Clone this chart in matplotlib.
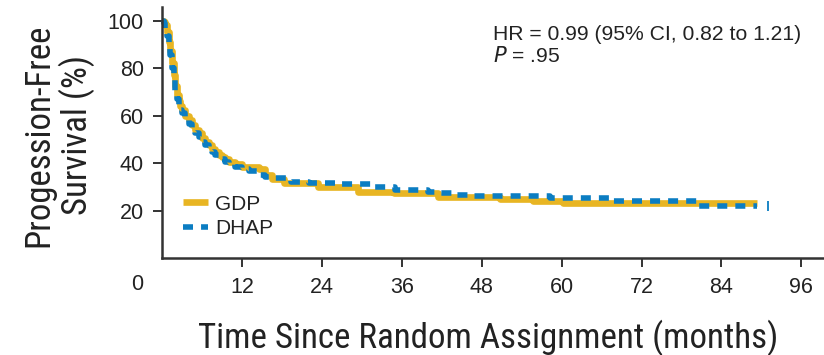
import matplotlib
matplotlib.use('Agg')
import matplotlib.pyplot as plt

# Kaplan-Meier estimates (months, % progression-free)
gdp_time = [0, 0.25, 0.5, 0.75, 1.0, 1.25, 1.5, 1.75, 2.0, 2.25, 2.5, 2.75, 3.0, 3.5, 4.0,
            4.5, 5.0, 5.5, 6.0, 6.5, 7.0, 7.5, 8.0, 8.5, 9.0, 9.5, 10, 11, 12, 14.5, 15.5,
            16.5, 18.3, 23.4, 29.4, 34.9, 41.4, 50.8, 55.7, 60.2, 89.3]
gdp_surv = [100, 99.5, 98, 95, 91, 87, 82, 77, 72.5, 68.5, 66, 64, 62.5, 60, 58,
            56, 54, 52.5, 50.5, 49, 47.5, 46, 44.5, 43.5, 42.5, 41.5, 40.5, 39.5, 38.5, 37.5, 35,
            33.3, 31.4, 29.8, 27.9, 27.2, 25.8, 24.7, 24.1, 23.0, 23.0]

dhap_time = [0, 0.25, 0.5, 0.75, 1.0, 1.25, 1.5, 1.75, 2.0, 2.25, 2.5, 2.75, 3.0, 3.5, 4.0,
             4.5, 5.0, 5.5, 6.0, 6.5, 7.0, 7.5, 8.0, 8.5, 9.0, 9.5, 10, 11, 12, 13, 14.2,
             15.5, 17, 19.3, 22, 27, 32, 35, 40, 41.5, 44, 46, 58.3, 67.3, 80.3, 89.3]
dhap_surv = [100, 99, 96.5, 93.5, 90, 85.5, 80, 75, 70.5, 67, 64.5, 62.5, 61, 58.5, 56.5,
             54.5, 52.5, 51, 49, 47.5, 46, 44.5, 43.5, 42.5, 41.5, 40.5, 39.5, 38.5, 37.5, 36.5, 35,
             34.2, 33.5, 32.1, 31.4, 31.2, 30, 28.6, 27.9, 27.2, 26.5, 25.9, 25.1, 24.0, 21.9, 21.9]
dhap_censor_time = [91]
dhap_censor_surv = [21.9]

x_ticks = [12, 24, 36, 48, 60, 72, 84, 96]
y_ticks = [20, 40, 60, 80, 100]

gdp_color = '#E8B523'
dhap_color = '#0B7DC2'
axis_color = '#333333'
text_color = '#222222'
label_font = ['Roboto Condensed', 'DejaVu Sans']
body_font = ['Liberation Sans', 'DejaVu Sans']

plt.rcParams['font.family'] = body_font

fig = plt.figure(figsize=(8.24, 3.55), dpi=100)
ax = fig.add_axes([162 / 824, 1 - 258 / 355, 1 - 162 / 824, (258 - 7) / 355])

ax.plot(gdp_time, gdp_surv, drawstyle='steps-post', color=gdp_color, lw=4.8,
        solid_capstyle='butt', solid_joinstyle='round', label='GDP', clip_on=False)
ax.plot(dhap_time, dhap_surv, drawstyle='steps-post', color=dhap_color, lw=4.0,
        dashes=(1.8, 1.45), dash_capstyle='butt', label='DHAP', clip_on=False)
ax.plot(dhap_censor_time, dhap_censor_surv, ls='none', marker='|', ms=7, mew=1.3,
        color=dhap_color)

ax.set_xlim(0, 99.4)
ax.set_ylim(0, 105.7)
ax.set_xticks(x_ticks)
ax.set_yticks(y_ticks)

for side in ['top', 'right']:
    ax.spines[side].set_visible(False)
for side in ['left', 'bottom']:
    ax.spines[side].set_color(axis_color)
    ax.spines[side].set_linewidth(1.8)
ax.tick_params(direction='out', length=6.5, width=1.4, color=axis_color,
               labelsize=15.5, labelcolor=text_color)
ax.tick_params(axis='x', pad=7)
ax.tick_params(axis='y', pad=6.5)

fig.text(137 / 824, 1 - 285 / 355, '0', ha='center', va='center', fontsize=15.5, color=text_color)

ax.set_xlabel('Time Since Random Assignment (months)', fontsize=25.2, color=text_color,
              family=label_font)
ax.xaxis.label.set_va('baseline')
ax.xaxis.set_label_coords(0.493, -0.36)

ax.set_ylabel('Progession-Free\nSurvival (%)', fontsize=25, color=text_color,
              family=label_font, linespacing=1.1)
ax.yaxis.set_label_coords(-0.101, 0.49)

fig.text(493 / 824, 1 - 40 / 355, 'HR = 0.99 (95% CI, 0.82 to 1.21)', fontsize=15.2,
         color=text_color, va='baseline')
fig.text(493 / 824, 1 - 62 / 355, '$\\mathit{P}$ = .95', fontsize=15.2,
         color=text_color, va='baseline')

leg = ax.legend(loc='upper left', bbox_to_anchor=(0.0317, 0.252), frameon=False,
                fontsize=15, handlelength=1.2, handletextpad=0.35, labelspacing=0.27,
                borderpad=0, borderaxespad=0)
for t in leg.get_texts():
    t.set_color(text_color)

fig.savefig('out.png', dpi=100)
